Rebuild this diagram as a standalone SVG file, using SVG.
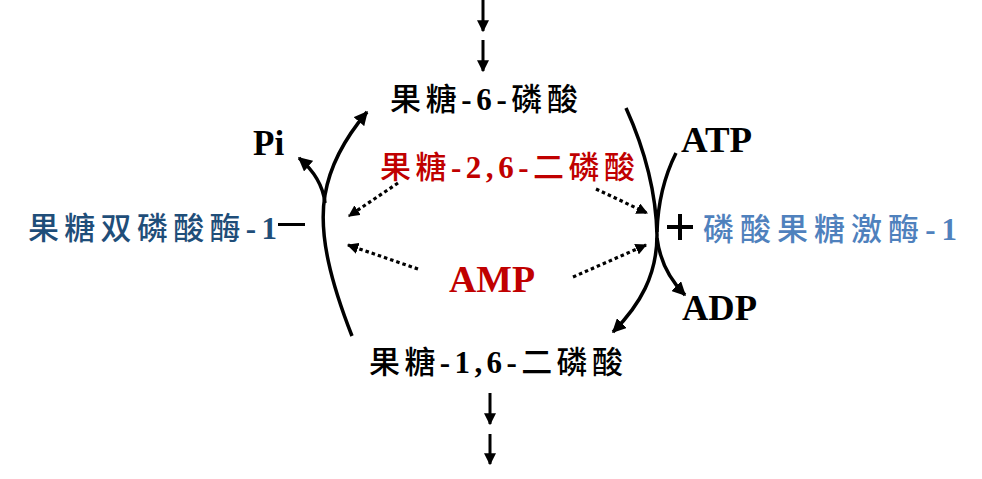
<svg xmlns="http://www.w3.org/2000/svg" width="982" height="479" viewBox="0 0 982 479">
<style>
text{font-family:"Liberation Serif","Noto Sans CJK SC",serif;font-weight:bold}
.cjk{font-family:"Noto Sans CJK SC","Liberation Serif",serif;font-weight:500}
.m{font-size:31px}
.b{font-size:35px}
.red{fill:#C00000}
.dblue{fill:#1F4E79}
.lblue{fill:#4F81BD}
.ln{fill:none;stroke:#000;stroke-width:3.5;stroke-linecap:butt}
.st{fill:none;stroke:#000;stroke-width:3}
.dot{fill:none;stroke:#000;stroke-width:3.2;stroke-dasharray:3.5 3}
</style>
<defs>
<marker id="ah" viewBox="0 0 10 10" refX="9" refY="5" markerWidth="4" markerHeight="4" markerUnits="strokeWidth" orient="auto"><path d="M0,0L10,5L0,10z" fill="#000"/></marker>
<marker id="ahd" viewBox="0 0 10 10" refX="9" refY="5" markerWidth="3.6" markerHeight="3.6" markerUnits="strokeWidth" orient="auto"><path d="M0,0L10,5L0,10z" fill="#000"/></marker>
</defs>
<rect width="982" height="479" fill="#fff"/>
<g id="connectors">
<path class="st" d="M483,0V31" marker-end="url(#ah)"/>
<path class="st" d="M483,40V71" marker-end="url(#ah)"/>
<path class="st" d="M490,393V424" marker-end="url(#ah)"/>
<path class="st" d="M490,434V464" marker-end="url(#ah)"/>
<path class="ln" d="M352,336C332,285 318,235 325,195C330,165 345,138 367,112" marker-end="url(#ah)"/>
<path class="ln" d="M325,203C323,185 313,170 299,158" marker-end="url(#ah)"/>
<path class="ln" d="M626,108C645,150 656,190 657,235C657,275 640,305 613,332" marker-end="url(#ah)"/>
<path class="ln" d="M676,153C665,175 658,200 657,232"/>
<path class="ln" d="M657,238C660,262 670,280 685,295" marker-end="url(#ah)"/>
<path class="dot" d="M398,183L349,216" marker-end="url(#ahd)"/>
<path class="dot" d="M596,189L647,213" marker-end="url(#ahd)"/>
<path class="dot" d="M418,269L348,245" marker-end="url(#ahd)"/>
<path class="dot" d="M573,277L646,245" marker-end="url(#ahd)"/>
</g>
<g id="f6p"><text class="m" x="390" y="110" textLength="188" lengthAdjust="spacing"><tspan class="cjk">果糖</tspan>-6-<tspan class="cjk">磷酸</tspan></text></g>
<g id="f26bp"><text class="m red" x="380" y="178" textLength="255" lengthAdjust="spacing"><tspan class="cjk">果糖</tspan>-2,6-<tspan class="cjk">二磷酸</tspan></text></g>
<g id="f16bp"><text class="m" x="369" y="373" textLength="254" lengthAdjust="spacing"><tspan class="cjk">果糖</tspan>-1,6-<tspan class="cjk">二磷酸</tspan></text></g>
<g id="amp"><text class="red" x="449" y="292" font-size="38" textLength="86" lengthAdjust="spacingAndGlyphs">AMP</text></g>
<g id="pi"><text class="b" x="253" y="155">Pi</text></g>
<g id="atp"><text class="b" x="681" y="152" textLength="71" lengthAdjust="spacingAndGlyphs">ATP</text></g>
<g id="adp"><text class="b" x="682" y="320" textLength="75" lengthAdjust="spacingAndGlyphs">ADP</text></g>
<g id="fbpase"><text class="m dblue" x="28" y="239" textLength="249" lengthAdjust="spacing"><tspan class="cjk">果糖双磷酸酶</tspan>-1</text><path d="M278,224.5H305" stroke="#000" stroke-width="3"/></g>
<g id="pfk"><path d="M667,227H693M680,214V240" stroke="#000" stroke-width="4"/><text class="m lblue" x="703" y="240" textLength="254" lengthAdjust="spacing"><tspan class="cjk">磷酸果糖激酶</tspan>-1</text></g>
</svg>
